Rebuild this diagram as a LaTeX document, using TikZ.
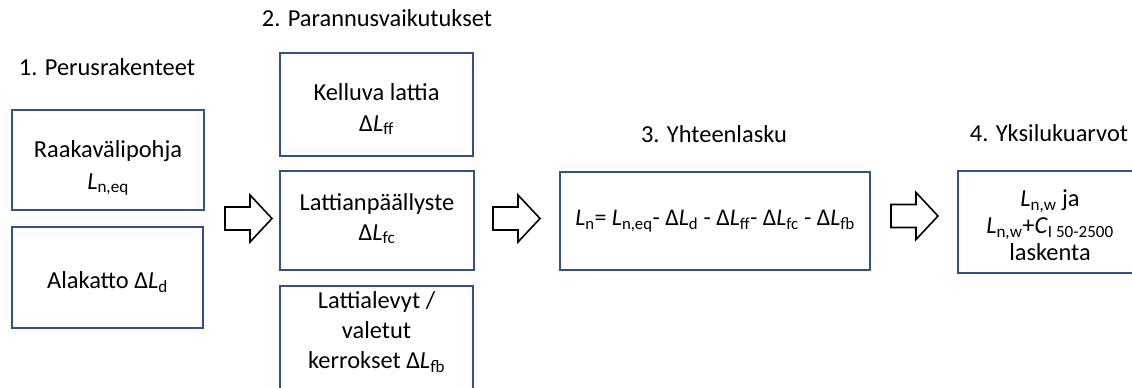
\documentclass[tikz,border=0pt]{standalone}
\usepackage{fontspec}
\setmainfont{Carlito}
\definecolor{boxblue}{RGB}{47,82,143}
\newcommand\Lsub[1]{\textit{L}\textsubscript{#1}}
\begin{document}
\begin{tikzpicture}[x=1bp,y=-1bp,
  every node/.style={font=\fontsize{24.5}{30}\selectfont, inner sep=0pt},
  box/.style={draw=boxblue, line width=1.3bp, fill=white},
  boxtxt/.style={align=center},
  title/.style={anchor=base},
  blockarrow/.pic={
    \path[draw=black, fill=white, line width=1.6bp, line join=miter]
      (0,-11.5) -- (25,-11.5) -- (25,-23.5) -- (47,0) -- (25,23.5)
      -- (25,11.5) -- (0,11.5) -- cycle;}]
\useasboundingbox (0,0) rectangle (1132,387);
\clip (0,0) rectangle (1132,387);

% column titles
\node[title] (h1) at (107,75)  {1. Perusrakenteet};
\node[title] (h2) at (377,26)  {2. Parannusvaikutukset};
\node[title] (h3) at (714,142) {3. Yhteenlasku};
\node[title] (h4) at (1049,141) {4. Yksilukuarvot};

% 1. base structures
\node[box, minimum width=192bp, minimum height=100bp] (b1) at (108,160) {};
\node[boxtxt, font=\fontsize{24.5}{32}\selectfont] (t1) at (108,168) {Raakavälipohja\\\Lsub{n,eq}};
\node[box, minimum width=191bp, minimum height=101bp] (b2) at (107.5,277.5) {};
\node[boxtxt] (t2) at (107.5,282) {Alakatto Δ\Lsub{d}};

% 2. improvements
\node[box, minimum width=193bp, minimum height=103bp] (b3) at (376.5,104.5) {};
\node[boxtxt, font=\fontsize{24.5}{31}\selectfont] (t3) at (376.5,109) {Kelluva lattia\\Δ\Lsub{ff}};
\node[box, minimum width=194bp, minimum height=99bp] (b4) at (377,220.5) {};
\node[boxtxt] (t4) at (377,218.5) {Lattianpäällyste\\Δ\Lsub{fc}};
\node[box, minimum width=193bp, minimum height=110bp] (b5) at (376.5,341) {};
\node[boxtxt] (t5) at (376.5,332) {Lattialevyt /\\valetut\\kerrokset Δ\Lsub{fb}};

% 3. summation
\node[box, minimum width=310bp, minimum height=98bp] (b6) at (715,221) {};
\node[boxtxt, font=\fontsize{24}{30}\selectfont] (t6) at (715,221.5) {\Lsub{n}= \Lsub{n,eq}- Δ\Lsub{d} - Δ\Lsub{ff}- Δ\Lsub{fc} - Δ\Lsub{fb}};

% 4. single-number values
\node[box, minimum width=193bp, minimum height=102bp] (b7) at (1054.5,222) {};
\node[boxtxt, font=\fontsize{24.5}{27}\selectfont] (t7) at (1050,225) {\Lsub{n,w} ja\\\Lsub{n,w}+\textit{C}\textsubscript{I 50-2500}\\laskenta};

% block arrows between the stages
\pic at (225,218.5) {blockarrow};
\pic at (493,218.5) {blockarrow};
\pic at (891,216) {blockarrow};
\end{tikzpicture}
\end{document}
